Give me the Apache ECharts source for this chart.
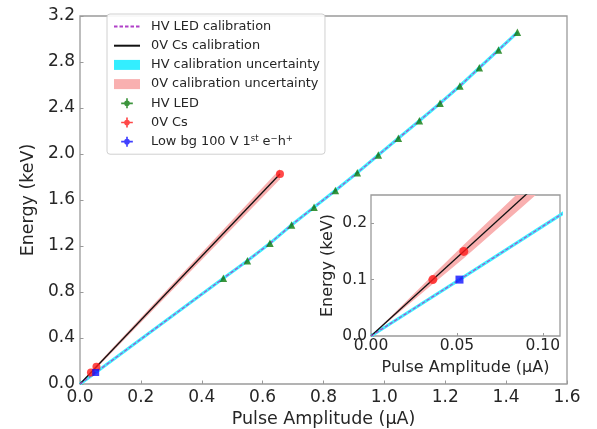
<!DOCTYPE html>
<html><head><meta charset="utf-8">
<script src="https://cdn.jsdelivr.net/npm/echarts@6/dist/echarts.min.js"></script>
<style>html,body{margin:0;padding:0;background:#fff}#c{width:597px;height:429px}</style>
</head><body><div id="c"></div>
<script>
// ---- data ----
const hvLedX = [0.471,0.550,0.624,0.695,0.769,0.839,0.911,0.980,1.046,1.115,1.183,1.248,1.312,1.375,1.437];
const hvLedE = [0.919,1.072,1.223,1.383,1.537,1.682,1.837,1.991,2.137,2.290,2.441,2.591,2.750,2.904,3.058];
const csX = [0.036, 0.054, 0.657];
const csE = [0.10, 0.15, 1.826];
const lowBgX = [0.0515];
const lowBgE = [0.10];
// calibration curves
const hvCalX = [0, 0.0515].concat(hvLedX);
const hvCalE = [0, 0.10].concat(hvLedE);
const csCalX = [0, 0.657];
const csCalE = [0, 1.826];
// 0V calibration uncertainty band
const csBandX  = [0, 0.036, 0.054, 0.09, 0.657];
const csBandLo = [0, 0.092, 0.138, 0.234, 1.78];
const csBandHi = [0, 0.108, 0.162, 0.266, 1.87];
// ticks
const mainXTicks = [0,0.2,0.4,0.6,0.8,1.0,1.2,1.4,1.6];
const mainYTicks = [0,0.4,0.8,1.2,1.6,2.0,2.4,2.8,3.2];
const insetXTicks = [0, 0.05, 0.10];
const insetYTicks = [0, 0.1, 0.2];

const names = {
  hvCal: 'HV LED calibration',
  csCal: '0V Cs calibration',
  hvUnc: 'HV calibration uncertainty',
  csUnc: '0V calibration uncertainty',
  hvLed: 'HV LED',
  cs: '0V Cs',
  low: 'Low bg 100 V 1st e−h+'
};

const zip = (a, b) => a.map((v, i) => [v, b[i]]);
const FONT = 'DejaVu Sans';
const TXT = '#262626';
const SPINE = '#9a9a9a';

function band(name, xs, lo, hi, color, ai) {
  return {
    type: 'custom', name: name, xAxisIndex: ai, yAxisIndex: ai, clip: true, z: 1,
    itemStyle: {color: color}, silent: true,
    data: [[xs[0], lo[0]]],
    renderItem: function (params, api) {
      const pts = [];
      for (let i = 0; i < xs.length; i++) pts.push(api.coord([xs[i], hi[i]]));
      for (let i = xs.length - 1; i >= 0; i--) pts.push(api.coord([xs[i], lo[i]]));
      return {type: 'polygon', shape: {points: pts}, style: {fill: color}};
    }
  };
}

function seriesFor(ai) {
  return [
    band(names.csUnc, csBandX, csBandLo, csBandHi, '#f9b0b0', ai),
    {type: 'line', name: names.hvUnc, xAxisIndex: ai, yAxisIndex: ai, data: zip(hvCalX, hvCalE),
     symbol: 'none', z: 2, clip: true, itemStyle: {color: '#33eeff'},
     lineStyle: {color: '#40f0ff', width: 3.2}},
    {type: 'line', name: names.csCal, xAxisIndex: ai, yAxisIndex: ai, data: zip(csCalX, csCalE),
     symbol: 'none', z: 3, clip: true, itemStyle: {color: '#000'},
     lineStyle: {color: '#111', width: 1.3}},
    {type: 'line', name: names.hvCal, xAxisIndex: ai, yAxisIndex: ai, data: zip(hvCalX, hvCalE),
     symbol: 'none', z: 4, clip: true, itemStyle: {color: '#c040d0'},
     lineStyle: {color: '#b040c8', width: 1.1, type: [3.5, 2]}},
    {type: 'scatter', name: names.hvLed, xAxisIndex: ai, yAxisIndex: ai, data: zip(hvLedX, hvLedE),
     symbol: 'triangle', symbolSize: 7.5, z: 5, itemStyle: {color: '#0c7a0c'}},
    {type: 'scatter', name: names.cs, xAxisIndex: ai, yAxisIndex: ai, data: zip(csX, csE),
     symbol: 'circle', symbolSize: ai ? 9 : 8, z: 5, itemStyle: {color: '#ff1a1a'}},
    {type: 'scatter', name: names.low, xAxisIndex: ai, yAxisIndex: ai, data: zip(lowBgX, lowBgE),
     symbol: 'rect', symbolSize: ai ? 8 : 7, z: 5, itemStyle: {color: '#1010ff'}}
  ];
}

const crossIcon = 'path://M6,0H8V12H6Z M0,5H14V7H0Z M7,2.6A3.4,3.4 0 1 1 6.99,2.6Z';

const axisCommon = {
  axisLine: {show: false},
  splitLine: {show: false},
  axisTick: {show: true, inside: true, length: 3.5, lineStyle: {color: SPINE, width: 1}},
};

const chart = echarts.init(document.getElementById('c'), null, {renderer: 'canvas'});
chart.setOption({
  animation: false,
  backgroundColor: '#fff',
  grid: [
    {left: 80, right: 30, top: 16, bottom: 45, show: true, borderColor: SPINE, borderWidth: 1.3,
     backgroundColor: 'transparent', containLabel: false, outerBoundsMode: 'none'},
    {left: 371, right: 37, top: 195, bottom: 93, show: true, borderColor: SPINE, borderWidth: 1.3,
     backgroundColor: '#fff', z: 10, containLabel: false, outerBoundsMode: 'none'}
  ],
  xAxis: [
    Object.assign({}, axisCommon, {
      type: 'value', gridIndex: 0, min: mainXTicks[0], max: mainXTicks[mainXTicks.length - 1], interval: 0.2,
      name: 'Pulse Amplitude (μA)', nameLocation: 'middle', nameGap: 25,
      nameTextStyle: {fontFamily: FONT, color: TXT, fontSize: 17.5},
      axisLabel: {fontFamily: FONT, color: TXT, fontSize: 17, margin: 5, formatter: v => v.toFixed(1)}
    }),
    Object.assign({}, axisCommon, {
      type: 'value', gridIndex: 1, min: 0, max: 0.11,
      axisTick: {show: true, inside: true, length: 3, customValues: insetXTicks, lineStyle: {color: SPINE}},
      name: 'Pulse Amplitude (μA)', nameLocation: 'middle', nameGap: 24, z: 10,
      nameTextStyle: {fontFamily: FONT, color: TXT, fontSize: 16},
      axisLabel: {fontFamily: FONT, color: TXT, fontSize: 15.5, margin: 2, customValues: insetXTicks, formatter: v => v.toFixed(2)}
    })
  ],
  yAxis: [
    Object.assign({}, axisCommon, {
      type: 'value', gridIndex: 0, min: mainYTicks[0], max: mainYTicks[mainYTicks.length - 1], interval: 0.4,
      name: 'Energy (keV)', nameLocation: 'middle', nameGap: 38,
      nameTextStyle: {fontFamily: FONT, color: TXT, fontSize: 17.5},
      axisLabel: {fontFamily: FONT, color: TXT, fontSize: 17, margin: 5, formatter: v => v.toFixed(1)}
    }),
    Object.assign({}, axisCommon, {
      type: 'value', gridIndex: 1, min: 0, max: 0.25,
      axisTick: {show: true, inside: true, length: 3, customValues: insetYTicks, lineStyle: {color: SPINE}},
      name: 'Energy (keV)', nameLocation: 'middle', nameGap: 35, z: 10,
      nameTextStyle: {fontFamily: FONT, color: TXT, fontSize: 16},
      axisLabel: {fontFamily: FONT, color: TXT, fontSize: 15.5, margin: 4, customValues: insetYTicks, formatter: v => v.toFixed(1)}
    })
  ],
  legend: {
    orient: 'vertical', left: 107, top: 14,
    itemWidth: 26, itemHeight: 10, itemGap: 4.2,
    backgroundColor: 'rgba(255,255,255,0.9)', borderColor: '#d0d0d0', borderWidth: 1, borderRadius: 3,
    padding: [5, 5, 5, 6],
    selectedMode: false,
    data: [
      {name: names.hvCal, itemStyle: {opacity: 0}},
      {name: names.csCal, itemStyle: {opacity: 0}},
      {name: names.hvUnc, icon: 'rect'},
      {name: names.csUnc, icon: 'rect'},
      {name: names.hvLed, icon: crossIcon},
      {name: names.cs, icon: crossIcon},
      {name: names.low, icon: crossIcon}
    ],
    formatter: function (n) {
      return n === names.low ? 'Low bg 100 V 1{sup|st} e{sup|−}h{sup|+}' : n;
    },
    textStyle: {fontFamily: FONT, fontSize: 12.9, color: TXT, lineHeight: 15, padding: [0, 0, 0, 6],
      rich: {sup: {fontFamily: FONT, fontSize: 8.5, color: TXT, lineHeight: 15, verticalAlign: 'top', padding: [0, 0, 5, 0]}}}
  },
  series: seriesFor(0).concat(seriesFor(1).map(s => Object.assign(s, {z: (s.z || 2) + 10})))
});
</script>
</body></html>
